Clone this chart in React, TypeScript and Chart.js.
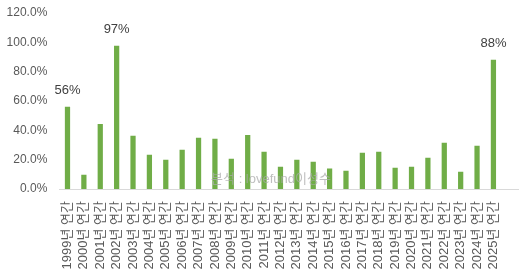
import React, { useEffect, useRef } from "react";
import { Chart, registerables } from "chart.js";

Chart.register(...registerables);

const categories = [
  "1999년 연간", "2000년 연간", "2001년 연간", "2002년 연간", "2003년 연간",
  "2004년 연간", "2005년 연간", "2006년 연간", "2007년 연간", "2008년 연간",
  "2009년 연간", "2010년 연간", "2011년 연간", "2012년 연간", "2013년 연간",
  "2014년 연간", "2015년 연간", "2016년 연간", "2017년 연간", "2018년 연간",
  "2019년 연간", "2020년 연간", "2021년 연간", "2022년 연간", "2023년 연간",
  "2024년 연간", "2025년 연간", "",
];

const values = [
  56.1, 9.8, 44.3, 97.6, 36.3, 23.4, 19.9, 26.7, 34.9, 34.2,
  20.6, 36.9, 25.4, 15.2, 19.9, 18.6, 13.9, 12.5, 24.7, 25.4,
  14.5, 15.2, 21.3, 31.5, 11.8, 29.5, 88.1, null,
];

const barLabels = [
  "56%", "", "", "97%", "", "", "", "", "", "",
  "", "", "", "", "", "", "", "", "", "",
  "", "", "", "", "", "", "88%", "",
];

const yTicks = [0, 20, 40, 60, 80, 100, 120];

const watermark = "분석 : lovefund이성수";

const FONT = "'Liberation Sans', 'Noto Sans CJK KR', sans-serif";

export default function App() {
  const ref = useRef<HTMLCanvasElement | null>(null);

  useEffect(() => {
    document.body.style.margin = "0";
    const canvas = ref.current;
    if (!canvas) return;

    const labelPlugin = {
      id: "barLabels",
      afterDatasetsDraw(chart: any) {
        const ctx = chart.ctx;
        const meta = chart.getDatasetMeta(0);
        ctx.save();
        ctx.font = `13px ${FONT}`;
        ctx.fillStyle = "#404040";
        ctx.textAlign = "center";
        ctx.textBaseline = "middle";
        meta.data.forEach((el: any, i: number) => {
          const t = barLabels[i];
          if (t) ctx.fillText(t, el.x, el.y - 16);
        });
        ctx.restore();
      },
    };

    const watermarkPlugin = {
      id: "watermark",
      afterDatasetsDraw(chart: any) {
        const ctx = chart.ctx;
        ctx.save();
        ctx.font = `13px ${FONT}`;
        ctx.fillStyle = "rgba(170,170,170,0.75)";
        ctx.textAlign = "center";
        ctx.textBaseline = "middle";
        ctx.fillText(watermark, 271, 179);
        ctx.restore();
      },
    };

    const chart = new Chart(canvas, {
      type: "bar",
      data: {
        labels: categories,
        datasets: [
          {
            data: values as any,
            backgroundColor: "#70AD47",
            borderWidth: 0,
            barPercentage: 0.32,
            categoryPercentage: 1,
          },
        ],
      },
      options: {
        animation: false,
        responsive: false,
        maintainAspectRatio: false,
        layout: { padding: { left: 6, right: 8, top: 13, bottom: 0 } },
        plugins: {
          legend: { display: false },
          tooltip: { enabled: false },
        },
        scales: {
          x: {
            grid: { display: false, drawTicks: false },
            border: { display: true, color: "#d9d9d9", width: 1 },
            ticks: {
              autoSkip: false,
              minRotation: 90,
              maxRotation: 90,
              padding: 12,
              color: "#595959",
              font: { size: 13, family: FONT },
            },
            afterFit(scale: any) {
              scale.height = 87;
              scale.paddingLeft = 0;
              scale.paddingRight = 0;
              scale.paddingTop = 0;
              scale.paddingBottom = 0;
            },
          },
          y: {
            min: 0,
            max: 120,
            afterBuildTicks(scale: any) {
              scale.ticks = yTicks.map((v) => ({ value: v }));
            },
            grid: { display: false, drawTicks: false },
            border: { display: false },
            ticks: {
              padding: 12,
              color: "#595959",
              font: { size: 12, family: FONT },
              callback: (v: any) => `${Number(v).toFixed(1)}%`,
            },
            afterFit(scale: any) {
              scale.width = 53.3;
              scale.paddingTop = 0;
              scale.paddingBottom = 0;
            },
          },
        },
      },
      plugins: [labelPlugin, watermarkPlugin],
    });

    return () => chart.destroy();
  }, []);

  return (
    <div style={{ width: 526, height: 276 }}>
      <canvas ref={ref} width={526} height={276} style={{ display: "block" }} />
    </div>
  );
}
